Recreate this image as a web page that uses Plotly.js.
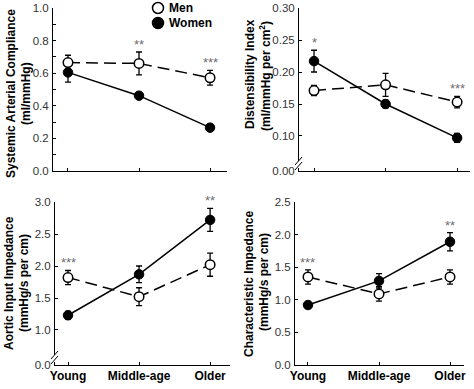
<!DOCTYPE html>
<html><head><meta charset="utf-8">
<script src="https://cdn.plot.ly/plotly-3.0.1.min.js"></script>
<style>html,body{margin:0;padding:0;background:#fff}#chart{width:474px;height:389px}</style>
</head><body><div id="chart"></div>
<script>
const groups = ['Young', 'Middle-age', 'Older'];
const seriesNames = ['Men', 'Women'];

const sacMen = [0.665, 0.66, 0.572];
const sacMenErr = [0.045, 0.07, 0.045];
const sacWomen = [0.605, 0.462, 0.266];
const sacWomenErr = [0.06, 0.012, 0.02];
const sacSig = ['', '**', '***'];

const diMen = [0.171, 0.180, 0.153];
const diMenErr = [0.008, 0.018, 0.009];
const diWomen = [0.217, 0.150, 0.097];
const diWomenErr = [0.017, 0.006, 0.007];
const diSig = ['*', '', '***'];

const aiiMen = [1.82, 1.52, 2.02];
const aiiMenErr = [0.11, 0.14, 0.18];
const aiiWomen = [1.23, 1.87, 2.72];
const aiiWomenErr = [0.06, 0.13, 0.18];
const aiiSig = ['***', '', '**'];

const ciMen = [1.35, 1.09, 1.35];
const ciMenErr = [0.11, 0.11, 0.11];
const ciWomen = [0.92, 1.29, 1.89];
const ciWomenErr = [0.03, 0.11, 0.14];
const ciSig = ['***', '', '**'];

const sacTicks = [0, 0.2, 0.4, 0.6, 0.8, 1.0];
const sacTickText = ['0.0', '0.2', '0.4', '0.6', '0.8', '1.0'];
const diTicks = [0.0453, 0.10, 0.15, 0.20, 0.25, 0.30];
const diTickText = ['0.00', '0.10', '0.15', '0.20', '0.25', '0.30'];
const aiiTicks = [0.453, 1.0, 1.5, 2.0, 2.5, 3.0];
const aiiTickText = ['0.0', '1.0', '1.5', '2.0', '2.5', '3.0'];
const ciTicks = [0, 0.5, 1.0, 1.5, 2.0, 2.5];
const ciTickText = ['0.0', '0.5', '1.0', '1.5', '2.0', '2.5'];

const W = 474, H = 389;
const px = v => v / W;
const py = v => 1 - v / H;
const xIdx = groups.map((g, i) => i);
const FONT = 'Liberation Sans, Arial, sans-serif';

function panel(n, men, menErr, women, womenErr) {
  const xa = n === 1 ? 'x' : 'x' + n;
  const ya = n === 1 ? 'y' : 'y' + n;
  const errStyle = {type: 'data', visible: true, color: '#000', thickness: 1.3, width: 3};
  return [
    {x: xIdx, y: women, xaxis: xa, yaxis: ya, name: seriesNames[1], type: 'scatter', mode: 'lines+markers',
     line: {color: '#000', width: 1.5},
     marker: {symbol: 'circle', size: 9.5, color: '#000', line: {color: '#000', width: 1}},
     error_y: Object.assign({array: womenErr}, errStyle)},
    {x: xIdx, y: men, xaxis: xa, yaxis: ya, name: seriesNames[0], type: 'scatter', mode: 'lines+markers',
     line: {color: '#000', width: 1.5, dash: '12px,6px'},
     marker: {symbol: 'circle', size: 9.5, color: '#fff', line: {color: '#000', width: 1.5}},
     error_y: Object.assign({array: menErr}, errStyle)}
  ];
}

const data = [].concat(
  panel(1, sacMen, sacMenErr, sacWomen, sacWomenErr),
  panel(2, diMen, diMenErr, diWomen, diWomenErr),
  panel(3, aiiMen, aiiMenErr, aiiWomen, aiiWomenErr),
  panel(4, ciMen, ciMenErr, ciWomen, ciWomenErr)
);

const tickFont = {family: FONT, size: 11.5, color: '#333'};
function xAxis(dom, range, anchor, labels) {
  return {domain: dom, range: range, anchor: anchor, tickmode: 'array', tickvals: xIdx, ticktext: groups,
    showticklabels: labels, showline: true, linecolor: '#000', linewidth: 1, ticks: 'inside', ticklen: 3,
    tickcolor: '#000', showgrid: false, zeroline: false, fixedrange: true,
    tickfont: {family: FONT, size: 12, color: '#000', weight: 'bold'}};
}
function yAxis(dom, range, anchor, vals, text, minor) {
  const a = {domain: dom, range: range, anchor: anchor, tickmode: 'array', tickvals: vals, ticktext: text,
    showline: true, linecolor: '#000', linewidth: 1, ticks: 'inside', ticklen: 3, tickcolor: '#000',
    showgrid: false, zeroline: false, fixedrange: true, tickfont: tickFont, ticklabelstandoff: 1};
  if (minor) a.minor = {ticks: 'inside', ticklen: 3, tickcolor: '#000', dtick: 0.1, tick0: 0, showgrid: false};
  return a;
}

const topY = [py(171), py(8)];
const botY = [py(365), py(202)];

function sigAnnots(sig, men, menErr, women, womenErr, xa, ya) {
  return sig.map((s, i) => ({
    text: s, x: i, y: Math.max(men[i] + menErr[i], women[i] + womenErr[i]), xref: xa, yref: ya,
    showarrow: false, yanchor: 'bottom', yshift: -2,
    font: {family: FONT, size: 13, color: '#6e6e6e'}
  })).filter(a => a.text);
}

function yTitle(text, xc, yc) {
  return {text: text, x: px(xc), y: py(yc), xref: 'paper', yref: 'paper', showarrow: false,
    textangle: -90, xanchor: 'center', yanchor: 'middle',
    font: {family: FONT, size: 12, color: '#000', weight: 'bold'}};
}

function legendText(text, x, y) {
  return {text: text, x: px(x), y: py(y), xref: 'paper', yref: 'paper', showarrow: false,
    xanchor: 'left', yanchor: 'middle', font: {family: FONT, size: 12, color: '#000', weight: 'bold'}};
}

const annotations = [].concat(
  sigAnnots(sacSig, sacMen, sacMenErr, sacWomen, sacWomenErr, 'x', 'y'),
  sigAnnots(diSig, diMen, diMenErr, diWomen, diWomenErr, 'x2', 'y2'),
  sigAnnots(aiiSig, aiiMen, aiiMenErr, aiiWomen, aiiWomenErr, 'x3', 'y3'),
  sigAnnots(ciSig, ciMen, ciMenErr, ciWomen, ciWomenErr, 'x4', 'y4'),
  [
    yTitle('Systemic Arterial Compliance', 11, 94),
    yTitle('(ml/mmHg)', 26, 94),
    yTitle('Distensibility Index', 250, 74),
    yTitle('(ml/mmHg per cm<sup>2</sup>)', 265, 76),
    yTitle('Aortic Input Impedance', 9, 283),
    yTitle('(mmHg/s per cm)', 24, 283),
    yTitle('Characteristic Impedance', 249, 284),
    yTitle('(mmHg/s per cm)', 264, 282),
    legendText(seriesNames[0], 167, 8),
    legendText(seriesNames[1], 167, 23)
  ]
);

function breakShapes(axX, yb) {
  return [
    {type: 'rect', xref: 'paper', yref: 'paper', x0: px(axX - 2), x1: px(axX + 2), y0: py(yb + 2), y1: py(yb - 5),
     fillcolor: '#fff', line: {width: 0}, layer: 'above'},
    {type: 'line', xref: 'paper', yref: 'paper', x0: px(axX - 4), x1: px(axX + 3), y0: py(yb - 1), y1: py(yb - 9),
     line: {color: '#000', width: 1}, layer: 'above'},
    {type: 'line', xref: 'paper', yref: 'paper', x0: px(axX - 4), x1: px(axX + 3), y0: py(yb + 4), y1: py(yb - 4),
     line: {color: '#000', width: 1}, layer: 'above'}
  ];
}

function legendCircle(cx, cy, fill) {
  const r = 5.5;
  return {type: 'circle', xref: 'paper', yref: 'paper', x0: px(cx - r), x1: px(cx + r), y0: py(cy + r), y1: py(cy - r),
    fillcolor: fill, line: {color: '#000', width: 1.5}, layer: 'above'};
}

const layout = {
  width: W, height: H, margin: {l: 0, r: 0, t: 0, b: 0, autoexpand: false},
  paper_bgcolor: '#fff', plot_bgcolor: 'rgba(0,0,0,0)',
  showlegend: false,
  xaxis: xAxis([px(53), px(227)], [-0.211, 2.239], 'y', false),
  yaxis: yAxis(topY, [0, 1.0], 'x', sacTicks, sacTickText, true),
  xaxis2: xAxis([px(299), px(470)], [-0.21, 2.18], 'y2', false),
  yaxis2: yAxis(topY, [0.0453, 0.30], 'x2', diTicks, diTickText, false),
  xaxis3: xAxis([px(55), px(230)], [-0.183, 2.28], 'y3', true),
  yaxis3: yAxis(botY, [0.453, 3.0], 'x3', aiiTicks, aiiTickText, false),
  xaxis4: xAxis([px(295), px(464)], [-0.183, 2.197], 'y4', true),
  yaxis4: yAxis(botY, [0, 2.5], 'x4', ciTicks, ciTickText, false),
  annotations: annotations,
  shapes: [].concat(breakShapes(299, 166), breakShapes(55, 360),
    [legendCircle(158, 8, '#fff'), legendCircle(158, 23, '#000')])
};

Plotly.newPlot('chart', data, layout, {displayModeBar: false, staticPlot: true});
</script></body></html>
